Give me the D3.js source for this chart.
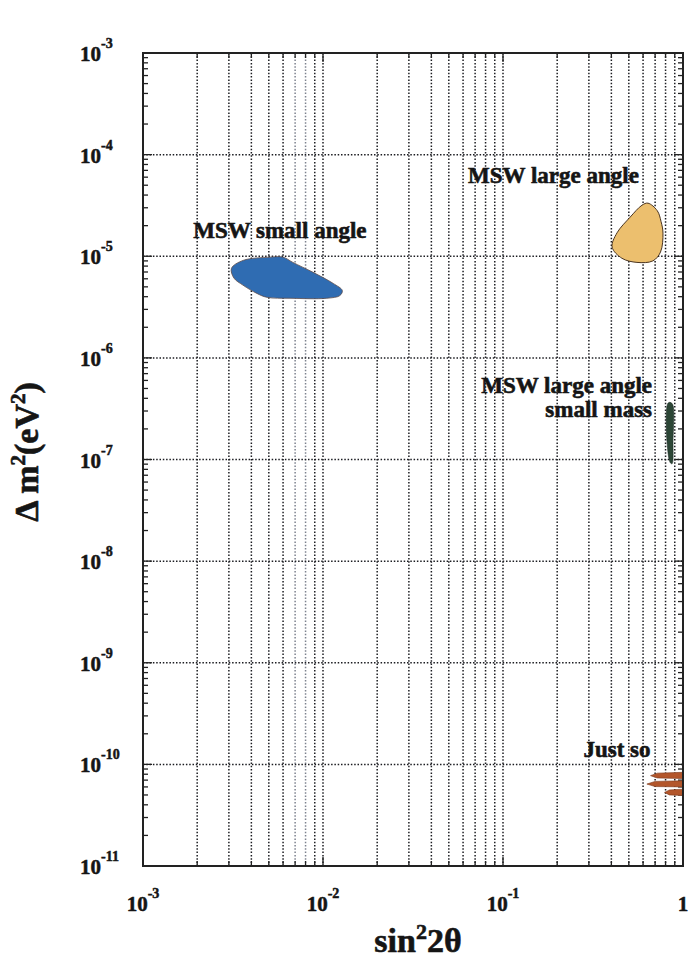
<!DOCTYPE html>
<html>
<head>
<meta charset="utf-8">
<script src="https://cdn.jsdelivr.net/npm/d3@7"></script>
<style>
  body { margin: 0; background: #fff; }
  svg text { font-family: "Liberation Serif", "Times New Roman", serif; font-weight: bold; fill: #151515; }
</style>
</head>
<body>
<div id="chart"></div>
<script>
/* Solar neutrino oscillation solutions - sin^2 2theta vs delta m^2 */

// axis decades
const X_DECADES = [1e-3, 1e-2, 1e-1, 1];
const X_EXPONENTS = ["-3", "-2", "-1", ""];
const Y_DECADES = [1e-3, 1e-4, 1e-5, 1e-6, 1e-7, 1e-8, 1e-9, 1e-10, 1e-11];
const Y_EXPONENTS = ["-3", "-4", "-5", "-6", "-7", "-8", "-9", "-10", "-11"];

// allowed regions, [sin^2 2theta, delta m^2 (eV^2)]
const SMALL_ANGLE = [
  [3.1e-3, 7.6e-6], [3.6e-3, 9.1e-6], [5.08e-3, 9.8e-6], [6.0e-3, 9.8e-6],
  [6.8e-3, 8.7e-6], [8.8e-3, 6.95e-6], [1.14e-2, 5.4e-6], [1.28e-2, 4.6e-6],
  [1.24e-2, 4.1e-6], [1.05e-2, 3.86e-6], [6.56e-3, 3.86e-6], [4.89e-3, 3.94e-6],
  [4.3e-3, 4.3e-6], [3.59e-3, 5.2e-6], [3.2e-3, 6.1e-6]
];
const LARGE_ANGLE = [
  [0.639, 3.33e-5], [0.72, 2.8e-5], [0.755, 2.2e-5], [0.774, 1.69e-5], [0.75, 1.1e-5],
  [0.68, 9.0e-6], [0.555, 8.7e-6], [0.458, 9.55e-6], [0.404, 1.23e-5],
  [0.43, 1.7e-5], [0.508, 2.42e-5], [0.592, 3.18e-5]
];
const LOW_MASS = [
  [0.84, 3.65e-7], [0.875, 3.5e-7], [0.88, 1.5e-7], [0.87, 9.1e-8],
  [0.85, 9.3e-8], [0.815, 1.5e-7], [0.82, 3.5e-7]
];
const JUST_SO = [
  [[0.66, 7.75e-11], [0.72, 8.2e-11], [1, 8.35e-11], [1, 7.25e-11], [0.72, 7.35e-11]],
  [[0.63, 6.4e-11], [0.7, 6.8e-11], [1, 6.9e-11], [1, 6.0e-11], [0.7, 6.05e-11]],
  [[0.79, 5.3e-11], [0.84, 5.6e-11], [1, 5.7e-11], [1, 4.95e-11], [0.84, 5.0e-11]]
];

// region labels: text, x, y (data coords), anchor
const LABELS = [
  { text: "MSW small angle", x: 1.9e-3, y: 1.5e-5, anchor: "start" },
  { text: "MSW large angle", x: 0.064, y: 5.2e-5, anchor: "start" },
  { text: "MSW large angle", x: 0.673, y: 4.47e-7, anchor: "end" },
  { text: "small mass", x: 0.673, y: 2.6e-7, anchor: "end" },
  { text: "Just so", x: 0.66, y: 1.19e-10, anchor: "end" }
];

const W = 691, H = 964;
const PLOT = { left: 143, right: 683, top: 53, bottom: 866 };

const svg = d3.select("#chart").append("svg")
  .attr("width", W).attr("height", H);

const x = d3.scaleLog().domain([1e-3, 1]).range([PLOT.left, PLOT.right]);
const y = d3.scaleLog().domain([1e-3, 1e-11]).range([PLOT.top, PLOT.bottom]);

// every 1..9 position within each decade
const xMinor = [];
X_DECADES.slice(0, -1).forEach((d) => {
  for (let k = 1; k < 10; k++) xMinor.push(d * k);
});
xMinor.push(1);
const yMinor = [];
Y_DECADES.slice(1).forEach((d) => {
  for (let k = 1; k < 10; k++) yMinor.push(d * k);
});
yMinor.push(1e-3);

/* ---------- grid ---------- */
const grid = svg.append("g");
grid.selectAll(".vgrid")
  .data(xMinor.filter((v) => v > 1e-3 * 1.01 && v < 0.99))
  .join("line")
  .attr("x1", (d) => x(d)).attr("x2", (d) => x(d))
  .attr("y1", PLOT.top).attr("y2", PLOT.bottom)
  .attr("stroke", (d) => (d > 6.5e-3 && d < 8.5e-3 ? "#7d828e" : "#1c1d22"))
  .attr("stroke-width", 1.5)
  .attr("stroke-dasharray", "1.5,1.8");

grid.selectAll(".hgrid")
  .data(Y_DECADES.slice(1, -1))
  .join("line")
  .attr("x1", PLOT.left).attr("x2", PLOT.right)
  .attr("y1", (d) => y(d)).attr("y2", (d) => y(d))
  .attr("stroke", "#1c1d22")
  .attr("stroke-width", 1.5)
  .attr("stroke-dasharray", "1.5,1.8");

/* ---------- minor ticks on frame ---------- */
const ticks = svg.append("g").attr("stroke", "#222").attr("stroke-width", 1.3);
yMinor.forEach((v) => {
  const major = Y_DECADES.some((d) => Math.abs(v / d - 1) < 1e-6);
  const len = major ? 9 : 5;
  ticks.append("line").attr("x1", PLOT.left).attr("x2", PLOT.left + len)
    .attr("y1", y(v)).attr("y2", y(v));
  ticks.append("line").attr("x1", PLOT.right).attr("x2", PLOT.right - len)
    .attr("y1", y(v)).attr("y2", y(v));
});
xMinor.forEach((v) => {
  const major = X_DECADES.some((d) => Math.abs(v / d - 1) < 1e-6);
  const len = major ? 9 : 5;
  ticks.append("line").attr("x1", x(v)).attr("x2", x(v))
    .attr("y1", PLOT.bottom).attr("y2", PLOT.bottom - len);
  ticks.append("line").attr("x1", x(v)).attr("x2", x(v))
    .attr("y1", PLOT.top).attr("y2", PLOT.top + len);
});

/* ---------- regions ---------- */
const closed = d3.line().x((d) => x(d[0])).y((d) => y(d[1]))
  .curve(d3.curveCatmullRomClosed.alpha(0.5));
const sharp = d3.line().x((d) => x(d[0])).y((d) => y(d[1]))
  .curve(d3.curveLinearClosed);

svg.append("path").attr("d", closed(SMALL_ANGLE))
  .attr("fill", "#2f6cb2").attr("stroke", "#5a4a4a").attr("stroke-width", 0.8);
svg.append("path").attr("d", closed(LARGE_ANGLE))
  .attr("fill", "#ecbf6e").attr("stroke", "#4a3420").attr("stroke-width", 1);
svg.append("path").attr("d", closed(LOW_MASS))
  .attr("fill", "#2c4636").attr("stroke", "#1e2e26").attr("stroke-width", 0.6);
JUST_SO.forEach((pts) => {
  svg.append("path").attr("d", sharp(pts))
    .attr("fill", "#b3562b").attr("stroke", "#7a3518").attr("stroke-width", 0.6);
});

/* ---------- frame ---------- */
svg.append("rect")
  .attr("x", PLOT.left).attr("y", PLOT.top)
  .attr("width", PLOT.right - PLOT.left).attr("height", PLOT.bottom - PLOT.top)
  .attr("fill", "none").attr("stroke", "#222").attr("stroke-width", 2);

/* ---------- region labels ---------- */
svg.selectAll(".region-label")
  .data(LABELS)
  .join("text")
  .attr("x", (d) => x(d.x)).attr("y", (d) => y(d.y))
  .attr("text-anchor", (d) => d.anchor)
  .attr("font-size", 23)
  .attr("stroke", "#151515").attr("stroke-width", 0.6)
  .text((d) => d.text);

/* ---------- tick labels ---------- */
Y_DECADES.forEach((d, i) => {
  const t = svg.append("text")
    .attr("x", 80).attr("y", y(d) + 8)
    .attr("font-size", 21)
    .attr("stroke", "#151515").attr("stroke-width", 0.5);
  t.append("tspan").text("10");
  t.append("tspan").attr("dy", -13).attr("font-size", 14).text(Y_EXPONENTS[i]);
});

X_DECADES.forEach((d, i) => {
  const t = svg.append("text")
    .attr("x", x(d)).attr("y", 911)
    .attr("text-anchor", "middle")
    .attr("font-size", 21)
    .attr("stroke", "#151515").attr("stroke-width", 0.5);
  if (X_EXPONENTS[i]) {
    t.append("tspan").text("10");
    t.append("tspan").attr("dy", -13).attr("font-size", 14).text(X_EXPONENTS[i]);
  } else {
    t.append("tspan").text("1");
  }
});

/* ---------- axis titles ---------- */
const xt = svg.append("text")
  .attr("x", 418).attr("y", 952)
  .attr("text-anchor", "middle")
  .attr("font-size", 34)
  .attr("stroke", "#151515").attr("stroke-width", 0.6);
xt.append("tspan").text("sin");
xt.append("tspan").attr("dy", -13).attr("font-size", 22).text("2");
xt.append("tspan").attr("dy", 13).text("2\u03b8");

const yt = svg.append("text")
  .attr("transform", "translate(38,452) rotate(-90)")
  .attr("text-anchor", "middle")
  .attr("font-size", 34)
  .attr("stroke", "#151515").attr("stroke-width", 0.6);
yt.append("tspan").text("\u0394 m");
yt.append("tspan").attr("dy", -13).attr("font-size", 21).text("2");
yt.append("tspan").attr("dy", 13).text("(eV");
yt.append("tspan").attr("dy", -13).attr("font-size", 21).text("2");
yt.append("tspan").attr("dy", 13).text(")");
</script>
</body>
</html>
